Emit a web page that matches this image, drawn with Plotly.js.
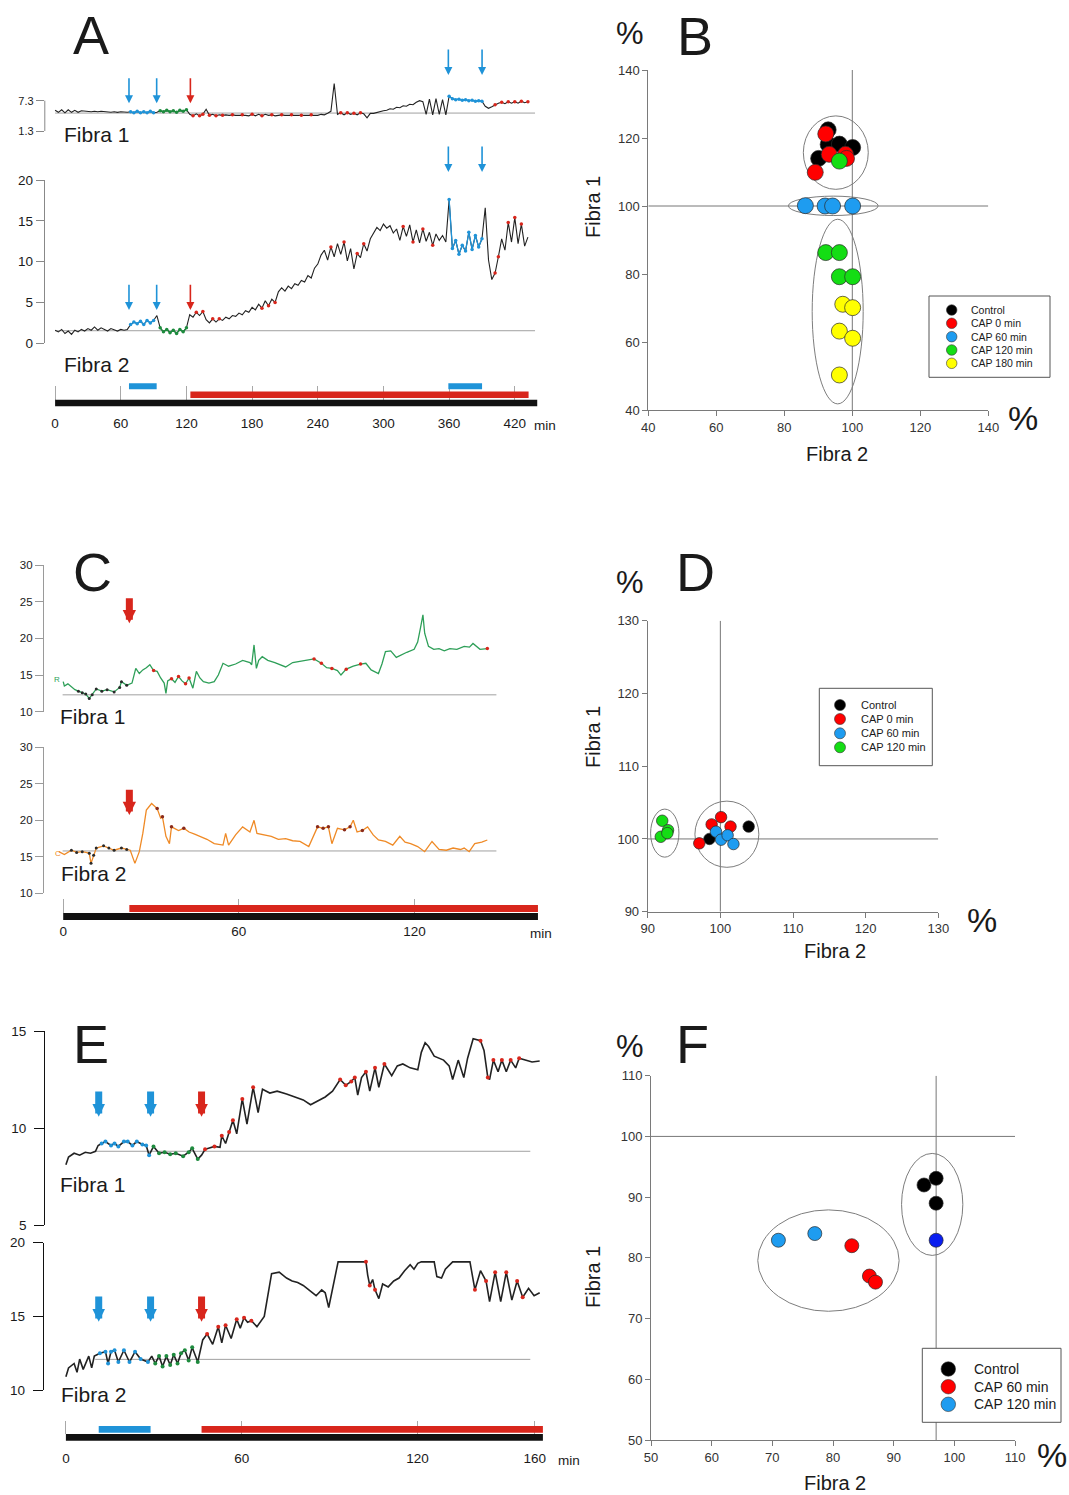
<!DOCTYPE html>
<html>
<head>
<meta charset="utf-8">
<script src="https://cdn.plot.ly/plotly-3.0.1.min.js"></script>
<style>
  html, body { margin: 0; padding: 0; background: #ffffff; }
  #chart { width: 1069px; height: 1495px; }
</style>
</head>
<body>
<div id="chart"></div>
<script>
// ---------------- Panel A: paired-fibre recording, one sample every 3 min ----------------
const A_dt = 3;
const A_fibra1 = [
  5.4,5.0,5.5,4.9,5.5,5.0,5.4,5.0,5.3,5.2,5.2,5.1,5.2,5.1,5.2,5.1,5.1,5.0,5.1,5.0,5.1,5.0,5.0,
  5.1,4.9,5.2,4.9,5.1,4.9,5.2,4.9,5.0,
  5.3,5.1,5.4,5.1,5.3,5.0,5.4,5.2,5.5,
  4.6,4.3,4.7,4.3,4.6,5.6,4.4,4.6,4.3,4.5,4.4,
  4.5,4.4,4.5,4.4,4.4,4.5,4.4,4.3,4.6,4.3,4.6,4.3,4.6,4.4,4.5,4.3,
  4.4,4.5,4.4,4.4,4.5,4.4,4.5,4.4,4.5,4.4,4.5,4.5,4.4,4.6,4.5,
  4.8,5.2,10.7,4.6,4.9,4.5,4.9,4.6,4.8,4.5,4.9,4.7,3.9,4.8,
  4.8,5.0,5.1,5.3,5.4,5.7,5.6,6.0,5.9,6.3,6.2,6.6,6.5,7.0,
  7.3,7.1,4.6,7.6,4.5,7.7,4.6,7.5,
  4.5,8.2,7.7,7.5,7.6,7.4,7.5,7.3,7.4,7.2,7.3,7.2,6.2,5.8,6.1,6.5,6.8,7.0,6.7,7.1,6.8,7.1,6.8,7.2,6.9,7.1
];
const A_fibra2 = [
  1.6,1.4,1.7,1.2,1.5,1.1,1.6,1.4,1.7,1.5,1.8,1.6,2.0,1.6,1.9,1.7,1.5,1.8,1.6,1.5,1.7,1.6,1.7,
  2.3,2.6,2.4,2.7,2.3,2.8,2.5,2.8,3.4,
  1.9,1.4,1.7,1.3,1.6,1.2,1.7,1.4,1.9,
  3.5,3.2,3.8,3.4,3.9,2.9,2.5,3.0,2.6,3.0,2.8,
  3.2,3.0,3.4,3.3,3.7,3.5,4.0,3.8,4.4,4.1,4.8,4.3,5.2,4.6,5.4,5.0,
  6.3,6.8,6.4,7.0,6.7,7.3,7.1,7.7,7.5,8.3,8.0,9.2,9.7,10.8,11.4,
  10.2,11.8,10.6,12.2,10.9,12.4,10.1,11.6,9.1,11.0,10.5,12.2,11.3,12.8,
  13.6,14.2,13.8,14.6,14.1,14.4,13.5,14.0,12.6,14.3,13.1,14.5,12.4,13.9,
  12.3,14.0,12.5,13.6,12.0,13.4,12.6,13.2,
  12.4,17.6,11.6,12.6,10.9,12.0,11.3,13.6,11.5,13.2,11.8,12.8,16.6,10.2,7.8,8.6,10.6,12.8,11.4,14.8,12.4,15.4,12.2,14.6,11.9,13.0
];
const A_baseline1 = 4.85;
const A_baseline2 = 1.54;
const A_baselineEnd = 438.5;
const A_control = [0, 440.5];
const A_cap = [123.6, 432.6];
const A_blue = [[67.5, 92.8], [359.3, 390.1]];
const A_ticks = [0, 60, 120, 180, 240, 300, 360, 420];
const A_f1_redMarks = [126,132,135,141,147,153,162,171,180,189,198,207,216,225,234,261,267,273,279,402,408,414,420,426,432];
const A_f2_redMarks = [129,135,144,150,189,195,201,252,264,276,282,318,327,336,345,402,405,414,420,426];

// ---------------- Panel B: Fibra 2 vs Fibra 1 (%) ----------------
const B_control_x = [92.9, 92.9, 96.2, 100.1, 90.1];
const B_control_y = [122.4, 118.1, 118.2, 117.2, 114.0];
const B_cap0_x = [92.2, 93.2, 98.0, 98.3, 89.1];
const B_cap0_y = [121.2, 115.2, 115.2, 114.0, 109.9];
const B_cap60_x = [86.2, 92.0, 94.2, 100.1];
const B_cap60_y = [100.1, 100.0, 100.0, 100.0];
const B_cap120_x = [96.2, 92.2, 96.2, 96.2, 100.1];
const B_cap120_y = [113.2, 86.3, 86.3, 79.2, 79.2];
const B_cap180_x = [97.2, 100.1, 96.2, 100.1, 96.2];
const B_cap180_y = [71.1, 70.1, 63.2, 61.1, 50.3];
const B_groups = [[85.6, 104.7, 104.9, 126.5], [81.2, 107.6, 97.2, 102.9], [88.2, 103.2, 41.8, 96.1]];
const B_ref = {x: 100, y: 100};

// ---------------- Panel C ----------------
const C_t1 = [0.0,0.4,1.6,2.8,4.0,5.2,6.5,7.7,8.9,9.9,11.3,13.2,15.0,17.4,19.3,19.9,21.7,23.5,24.8,26.0,27.2,28.4,29.6,30.9,32.1,33.3,34.5,35.1,35.7,37.0,38.2,39.4,40.6,41.8,43.0,44.3,45.5,46.7,47.9,49.8,51.6,53.0,54.6,56.5,58.9,61.3,63.8,64.4,65.2,66.0,66.8,68.0,69.9,72.3,74.8,76.0,78.4,80.9,83.3,85.7,88.2,90.0,91.8,93.7,94.9,96.7,99.1,101.6,103.4,105.2,107.7,108.9,110.1,111.9,113.8,115.6,117.4,119.9,121.1,122.1,122.9,123.5,124.8,126.6,128.4,130.2,132.1,134.5,137.0,138.8,140.0,142.4,144.9];
const C_fibra1 = [14.1,13.5,13.8,13.4,13.0,12.8,12.6,12.4,11.8,12.3,13.1,12.8,13.0,12.7,13.3,14.1,13.6,13.9,15.9,15.2,15.7,16.0,16.4,15.6,15.5,14.6,13.9,12.5,14.2,14.5,14.0,14.8,14.2,13.8,14.6,13.2,15.5,14.6,14.1,13.9,14.1,15.0,16.6,16.2,16.5,17.0,16.7,16.4,19.1,15.9,17.0,17.5,17.0,16.7,16.3,16.1,16.7,16.9,17.0,17.2,16.6,16.0,15.9,15.6,15.0,15.8,16.2,16.5,16.6,15.7,15.2,16.5,18.2,18.3,17.4,17.8,18.1,18.5,19.5,21.5,23.2,20.7,18.9,18.5,18.6,18.3,18.6,18.5,18.9,18.8,19.3,18.5,18.6];
const C_t2 = [-1.5,0.4,2.8,4.6,6.5,8.9,9.5,10.4,11.3,13.8,15.6,17.4,19.9,21.7,22.9,24.5,26.0,27.2,28.4,30.2,32.1,33.3,33.9,35.1,36.3,37.0,39.4,41.2,43.0,44.9,46.7,49.1,51.6,54.6,55.5,56.5,58.9,61.3,63.8,65.2,66.2,68.6,71.1,73.5,76.0,78.4,80.9,83.9,86.9,88.8,90.6,91.8,93.7,96.1,98.0,99.1,100.4,102.2,104.0,105.9,107.7,110.1,112.6,113.8,115.0,116.8,118.7,121.1,123.5,126.0,128.4,130.9,133.2,135.7,137.0,138.7,140.6,143.0,144.9];
const C_fibra2 = [15.7,15.3,15.9,15.6,15.7,15.5,14.1,15.2,16.2,16.5,16.2,15.9,16.2,16.0,15.9,14.1,15.7,18.2,21.4,22.3,21.6,20.3,20.5,17.8,16.8,19.1,18.6,18.9,18.4,18.1,17.8,17.4,16.8,16.6,18.2,16.6,18.0,19.1,18.4,20.0,18.2,18.0,17.8,17.4,17.5,17.2,17.1,16.4,19.1,18.9,19.1,16.8,18.9,18.7,19.1,20.0,18.4,18.6,19.1,18.0,17.3,17.1,16.6,17.2,17.8,17.0,16.8,16.4,15.7,17.1,16.0,15.9,16.2,16.0,16.2,15.7,16.8,17.0,17.3];
const C_baseline1 = 12.3;
const C_baseline2 = 15.8;
const C_baselineSpan = [-0.2, 148];
const C_control = [0, 162.2];
const C_cap = [22.6, 162.2];
const C_ticks = [0, 60, 120];
const C_f1_redMarks = [30.9, 37.0, 39.4, 41.8, 43.0, 85.7, 88.2, 91.8, 96.7, 101.6, 144.9];
const C_f2_redMarks = [32.1, 33.9, 37.0, 41.2, 86.9, 88.8, 90.6, 96.1, 98.0, 102.2];

// ---------------- Panel D ----------------
const D_control_x = [98.5, 103.9];
const D_control_y = [100.0, 101.7];
const D_cap0_x = [97.1, 98.8, 100.1, 101.4];
const D_cap0_y = [99.4, 102.0, 103.0, 101.7];
const D_cap60_x = [99.4, 100.1, 101.0, 101.8];
const D_cap60_y = [101.0, 99.9, 100.5, 99.3];
const D_cap120_x = [92.0, 92.8, 91.8, 92.7];
const D_cap120_y = [102.5, 101.2, 100.3, 100.8];
const D_groups = [[90.4, 94.3, 97.5, 104.1], [96.5, 105.3, 96.1, 105.2]];
const D_ref = {x: 100, y: 100};

// ---------------- Panel E ----------------
const E_t1 = [0.0,0.9,2.8,4.7,6.6,8.4,10.1,11.0,12.2,13.5,15.4,16.6,17.9,19.8,21.1,22.7,24.2,26.1,27.4,28.4,29.9,31.8,33.7,35.6,37.5,40.0,41.9,43.1,45.0,46.3,47.5,49.4,50.7,52.6,53.2,54.5,55.7,57.0,58.3,59.3,60.2,61.8,63.9,65.6,67.1,69.6,72.1,75.3,78.4,81.0,83.5,86.0,88.5,91.0,93.6,95.5,97.4,98.6,99.6,100.9,102.4,103.7,104.9,105.5,106.8,108.7,111.2,113.1,115.0,117.5,120.1,121.3,122.6,123.8,125.7,128.9,130.8,132.0,133.9,135.8,137.1,139.0,141.5,142.7,144.0,144.6,145.9,147.5,148.8,150.3,151.8,153.5,154.7,157.3,159.1,161.7];
const E_fibra1 = [8.1,8.5,8.7,8.6,8.75,8.7,8.8,9.1,9.2,9.3,9.1,9.2,9.05,9.3,9.3,9.1,9.3,9.15,9.1,8.6,9.05,8.7,8.75,8.65,8.7,8.55,8.75,8.95,8.4,8.6,8.9,9.0,9.05,9.0,9.6,9.2,9.8,10.4,9.7,10.6,11.5,10.2,12.1,10.8,12.0,11.8,11.9,11.75,11.6,11.45,11.2,11.4,11.6,11.9,12.5,12.2,12.4,12.6,11.7,12.6,12.9,11.9,12.7,13.1,12.1,13.3,12.7,13.2,13.3,13.1,13.0,13.9,14.4,14.2,13.7,13.5,13.2,12.5,13.5,12.6,13.6,14.6,14.5,14.0,12.6,12.5,13.5,12.9,13.5,12.9,13.5,13.1,13.6,13.5,13.4,13.45];
const E_t2 = [0.0,0.9,2.8,3.8,4.7,5.9,7.8,8.8,9.7,10.6,11.6,13.5,14.4,15.4,16.6,17.9,19.8,21.7,23.6,25.5,28.0,29.3,30.5,31.8,33.0,34.3,35.6,36.8,38.1,39.3,40.6,41.9,43.1,45.0,46.7,48.2,50.1,52.0,53.2,54.5,56.4,58.3,59.5,60.8,62.0,63.3,65.2,67.7,69.0,70.2,72.8,75.3,77.2,79.1,81.0,83.5,85.4,87.3,88.5,89.7,91.0,92.9,97.3,102.4,103.0,103.7,104.7,105.5,106.8,108.1,110.0,111.9,113.7,115.6,117.5,118.8,120.1,121.3,125.7,126.6,128.2,129.5,132.0,137.9,139.6,141.5,143.4,144.6,146.5,148.4,150.3,152.2,154.0,155.9,157.9,159.8,161.7];
const E_fibra2 = [10.9,11.5,11.8,11.2,12.1,11.4,12.3,11.5,12.3,12.4,12.5,12.6,11.8,12.6,12.7,11.9,12.7,11.9,12.6,12.1,11.9,12.3,11.8,12.3,11.6,12.3,11.7,12.4,11.8,12.5,12.7,12.0,12.9,11.9,13.4,13.8,13.1,14.3,13.2,14.4,13.5,14.8,14.2,14.9,14.6,14.7,14.3,15.0,16.5,17.9,18.0,17.6,17.4,17.3,17.1,16.7,16.4,16.8,16.6,15.6,16.8,18.7,18.7,18.7,17.8,17.1,17.5,16.8,16.2,17.2,17.0,17.4,17.6,18.1,18.5,18.2,18.6,18.7,18.7,17.7,17.6,18.2,18.7,18.7,16.8,18.1,17.4,16.0,18.0,16.0,18.0,16.1,17.4,16.3,16.9,16.4,16.6];
const E_baseline1 = 8.8;
const E_baseline2 = 12.08;
const E_baselineSpan = [10, 158.5];
const E_control = [0, 162.8];
const E_cap = [46.3, 162.8];
const E_blue = [[11.2, 28.9]];
const E_ticks = [0, 60, 120, 160];
const E_f1_redMarks = [47.5, 50.7, 53.2, 55.7, 57.0, 60.2, 63.9, 93.6, 95.5, 97.4, 98.6, 102.4, 105.5, 108.7, 141.5, 144.0, 145.9, 148.8, 151.8, 154.7];
const E_f2_redMarks = [48.2, 52.0, 54.5, 58.3, 60.8, 63.3, 102.4, 103.7, 105.5, 139.6, 143.4, 146.5, 150.3, 154.0, 155.9];

// ---------------- Panel F ----------------
const F_control_x = [95.0, 97.0, 97.0];
const F_control_y = [92.0, 93.1, 89.0];
const F_cap60_x = [83.1, 86.0, 87.0];
const F_cap60_y = [82.0, 77.0, 76.0];
const F_cap120_x = [71.0, 77.0];
const F_cap120_y = [82.9, 84.0];
const F_other_x = [97.0];
const F_other_y = [82.9];
const F_groups = [[67.6, 90.9, 71.2, 87.9], [91.3, 101.4, 80.4, 97.2]];
const F_ref = {x: 97, y: 100};

// ================= drawing =================
const W = 1069, H = 1495;
const X = p => p / W;
const Y = p => 1 - p / H;
const FONT = 'Liberation Sans, Arial, Helvetica, sans-serif';
const INK = '#1a1a1a';
const COL = {blue: '#1f93d8', green: '#1e8b3e', red: '#d8261c', bar: '#111111',
             cGreen: '#2e9f58', cOrange: '#ef8a26', trace: '#222222'};
const PT = {control: '#000000', cap0: '#ff0000', cap60: '#1e9cf0', cap120: '#14dd14', cap180: '#ffff00', deep: '#0a1ef0'};

const traces = [];
const shapes = [];
const annotations = [];

const seq = (n, dt) => Array.from({length: n}, (_, i) => i * dt);
const A_t = seq(A_fibra1.length, A_dt);

function within(t, v, lo, hi) {
  const x = [], y = [];
  t.forEach((ti, i) => { if (ti >= lo && ti <= hi) { x.push(ti); y.push(v[i]); } });
  return {x, y};
}
function nearest(t, v, times) {
  const x = [], y = [];
  times.forEach(m => {
    let b = 0;
    t.forEach((ti, i) => { if (Math.abs(ti - m) < Math.abs(t[b] - m)) b = i; });
    x.push(t[b]); y.push(v[b]);
  });
  return {x, y};
}
function lineTrace(xa, ya, x, y, color, width) {
  traces.push({type: 'scatter', mode: 'lines', xaxis: xa, yaxis: ya, x, y,
    line: {color, width}, hoverinfo: 'skip', showlegend: false});
}
function markTrace(xa, ya, pts, color, size) {
  traces.push({type: 'scatter', mode: 'markers', xaxis: xa, yaxis: ya, x: pts.x, y: pts.y,
    marker: {color, size, line: {width: 0}}, hoverinfo: 'skip', showlegend: false});
}
function segTrace(xa, ya, pts, color) {
  traces.push({type: 'scatter', mode: 'lines+markers', xaxis: xa, yaxis: ya, x: pts.x, y: pts.y,
    line: {color, width: 1.3}, marker: {color, size: 3.5}, hoverinfo: 'skip', showlegend: false});
}
function barTrace(xa, ya, span, row, color, width) {
  traces.push({type: 'scatter', mode: 'lines', xaxis: xa, yaxis: ya, x: [span[0], span[1]], y: [row, row],
    line: {color, width}, hoverinfo: 'skip', showlegend: false});
}
function baseline(xa, ya, x0, x1, y) {
  shapes.push({type: 'line', xref: xa, yref: ya, x0, x1, y0: y, y1: y, layer: 'below',
    line: {color: '#a0a0a0', width: 1}});
}
function arrow(xa, t, tipPy, tailPy, color, w, head) {
  annotations.push({xref: xa, yref: 'paper', x: t, y: Y(tipPy), ax: 0, ay: tailPy - tipPy,
    axref: 'pixel', ayref: 'pixel', text: '', showarrow: true, arrowhead: 2, arrowsize: head,
    arrowwidth: w, arrowcolor: color, standoff: 0});
}
function label(text, x, y, size, opts) {
  annotations.push(Object.assign({text, xref: 'paper', yref: 'paper', x: X(x), y: Y(y),
    xanchor: 'center', yanchor: 'middle', showarrow: false, font: {size, color: INK}}, opts || {}));
}
function scatterSet(xa, ya, x, y, color, size) {
  traces.push({type: 'scatter', mode: 'markers', xaxis: xa, yaxis: ya, x, y,
    marker: {color, size, line: {color: '#2a2a2a', width: 0.7}}, hoverinfo: 'skip', showlegend: false});
}
function groups(xa, ya, list) {
  list.forEach(g => shapes.push({type: 'circle', xref: xa, yref: ya, x0: g[0], x1: g[1], y0: g[2], y1: g[3],
    layer: 'below', line: {color: '#7d7d7d', width: 1}}));
}
function refLines(xa, ya, ref, xr, yr) {
  shapes.push({type: 'line', xref: xa, yref: ya, x0: ref.x, x1: ref.x, y0: yr[0], y1: yr[1], layer: 'below', line: {color: '#777', width: 1}});
  shapes.push({type: 'line', xref: xa, yref: ya, x0: xr[0], x1: xr[1], y0: ref.y, y1: ref.y, layer: 'below', line: {color: '#777', width: 1}});
}
function legendBlock(box, rows, entries, mx, tx, msize, fsize) {
  shapes.push({type: 'rect', xref: 'paper', yref: 'paper', x0: X(box[0]), x1: X(box[2]), y0: Y(box[3]), y1: Y(box[1]),
    line: {color: '#555', width: 1}, fillcolor: '#ffffff', layer: 'above'});
  entries.forEach((e, i) => {
    shapes.push({type: 'circle', xref: 'paper', yref: 'paper', xsizemode: 'pixel', ysizemode: 'pixel',
      xanchor: X(mx), yanchor: Y(rows[i]), x0: -msize / 2, x1: msize / 2, y0: -msize / 2, y1: msize / 2,
      fillcolor: e[1], line: {color: '#333', width: 0.6}, layer: 'above'});
    label(e[0], tx, rows[i], fsize, {xanchor: 'left'});
  });
}

// ---- axis builders ----
function tAxis(d0, d1, p0, ppm, anchor) {
  return {domain: [X(d0), X(d1)], range: [(d0 - p0) / ppm, (d1 - p0) / ppm], anchor, visible: false, fixedrange: true};
}
function timeTickAxis(d0, d1, p0, ppm, anchor, posPy, ticklen, tickvals, standoff) {
  return Object.assign(tAxis(d0, d1, p0, ppm, anchor), {
    visible: true, anchor: 'free', position: Y(posPy), side: 'bottom', ticks: 'inside', ticklen,
    tickwidth: 1, tickcolor: '#a8a8a8', tickvals, ticktext: tickvals.map(String), showline: false,
    showgrid: false, zeroline: false, layer: 'below traces', ticklabelstandoff: standoff,
    tickfont: {size: 13.5, color: INK}});
}
function vAxis(top, bottom, range, anchor, opts) {
  return Object.assign({domain: [Y(bottom), Y(top)], range, anchor, showgrid: false, zeroline: false,
    ticks: 'outside', ticklen: 8, tickwidth: 1, showline: true, linewidth: 1, fixedrange: true}, opts);
}
function rowAxis(top, bottom, range, anchor) {
  return {domain: [Y(bottom), Y(top)], range, anchor, visible: false, fixedrange: true};
}
function sAxis(isX, d0, d1, range, dtick, anchor) {
  return {domain: isX ? [X(d0), X(d1)] : [Y(d1), Y(d0)], range, dtick, tick0: range[0], anchor,
    showline: true, linecolor: '#7a7a7a', linewidth: 1, ticks: 'outside', ticklen: 5, tickcolor: '#7a7a7a',
    showgrid: false, zeroline: false, fixedrange: true, tickfont: {size: 13, color: '#333'}};
}

// ---- Panel A ----
const A_p0 = 55.1, A_ppm = 1.0945;
lineTrace('x', 'y', A_t, A_fibra1, COL.trace, 1.1);
lineTrace('x2', 'y2', A_t, A_fibra2, COL.trace, 1.1);
[['x', 'y', A_fibra1, A_f1_redMarks], ['x2', 'y2', A_fibra2, A_f2_redMarks]].forEach(([xa, ya, v, reds]) => {
  A_blue.forEach(w => segTrace(xa, ya, within(A_t, v, w[0], w[1]), COL.blue));
  segTrace(xa, ya, within(A_t, v, A_blue[0][1] + 1, A_cap[0] - 1), COL.green);
  markTrace(xa, ya, nearest(A_t, v, reds), COL.red, 3.5);
});
baseline('x', 'y', 0, A_baselineEnd, A_baseline1);
baseline('x2', 'y2', 0, A_baselineEnd, A_baseline2);
A_blue.forEach(w => barTrace('x3', 'y3', w, 2, COL.blue, 6));
barTrace('x3', 'y3', A_cap, 1, COL.red, 6.5);
barTrace('x3', 'y3', A_control, 0, COL.bar, 6.5);
shapes.push({type: 'line', xref: 'paper', yref: 'y', x0: X(44.8), x1: X(44.8), y0: 1.3, y1: 7.3, line: {color: '#888', width: 1}});
[A_blue[0][0], A_blue[0][1]].forEach(t => {
  arrow('x', t, 103.3, 76.7, COL.blue, 1.6, 1);
  arrow('x2', t, 310, 283.3, COL.blue, 1.6, 1);
});
arrow('x', A_cap[0], 103.3, 76.7, COL.red, 1.6, 1);
arrow('x2', A_cap[0], 310, 283.3, COL.red, 1.6, 1);
[A_blue[1][0], A_blue[1][1]].forEach(t => {
  arrow('x', t, 75, 48, COL.blue, 1.6, 1);
  arrow('x2', t, 172, 145, COL.blue, 1.6, 1);
});

// ---- Panel B ----
refLines('x10', 'y10', B_ref, [40, 140], [40, 140]);
groups('x10', 'y10', B_groups);
scatterSet('x10', 'y10', B_control_x, B_control_y, PT.control, 16);
scatterSet('x10', 'y10', B_cap0_x, B_cap0_y, PT.cap0, 16);
scatterSet('x10', 'y10', B_cap60_x, B_cap60_y, PT.cap60, 16);
scatterSet('x10', 'y10', B_cap120_x, B_cap120_y, PT.cap120, 16);
scatterSet('x10', 'y10', B_cap180_x, B_cap180_y, PT.cap180, 16);
legendBlock([929, 296, 1050, 377.3], [310, 323.3, 336.7, 350, 363.3],
  [['Control', PT.control], ['CAP 0 min', PT.cap0], ['CAP 60 min', PT.cap60], ['CAP 120 min', PT.cap120], ['CAP 180 min', PT.cap180]],
  951.7, 969, 10.5, 10.5);

// ---- Panel C ----
const C_p0 = 63.2, C_ppm = 2.927;
lineTrace('x4', 'y4', C_t1, C_fibra1, COL.cGreen, 1.3);
lineTrace('x5', 'y5', C_t2, C_fibra2, COL.cOrange, 1.3);
markTrace('x4', 'y4', within(C_t1, C_fibra1, 5, C_cap[0]), '#2a2a2a', 3);
markTrace('x5', 'y5', within(C_t2, C_fibra2, 2, C_cap[0]), '#2a2a2a', 3);
markTrace('x4', 'y4', nearest(C_t1, C_fibra1, C_f1_redMarks), COL.red, 3.5);
markTrace('x5', 'y5', nearest(C_t2, C_fibra2, C_f2_redMarks), '#8a2a1a', 3.5);
baseline('x4', 'y4', C_baselineSpan[0], C_baselineSpan[1], C_baseline1);
baseline('x5', 'y5', C_baselineSpan[0], C_baselineSpan[1], C_baseline2);
barTrace('x6', 'y6', C_cap, 1, COL.red, 7);
barTrace('x6', 'y6', C_control, 0, COL.bar, 7);
arrow('x4', C_cap[0], 623.3, 596.7, COL.red, 7, 0.38);
arrow('x5', C_cap[0], 815, 788.3, COL.red, 7, 0.38);
label('R', 57, 680, 8, {font: {size: 8, color: COL.cGreen}});
label('C', 58, 853, 8, {font: {size: 8, color: COL.cOrange}});

// ---- Panel D ----
refLines('x11', 'y11', D_ref, [90, 130], [90, 130]);
groups('x11', 'y11', D_groups);
scatterSet('x11', 'y11', D_control_x, D_control_y, PT.control, 11.5);
scatterSet('x11', 'y11', D_cap0_x, D_cap0_y, PT.cap0, 11.5);
scatterSet('x11', 'y11', D_cap60_x, D_cap60_y, PT.cap60, 11.5);
scatterSet('x11', 'y11', D_cap120_x, D_cap120_y, PT.cap120, 11.5);
legendBlock([819.3, 688.3, 932.3, 765.7], [705, 719, 733.3, 747.3],
  [['Control', PT.control], ['CAP 0 min', PT.cap0], ['CAP 60 min', PT.cap60], ['CAP 120 min', PT.cap120]],
  840, 858.5, 11, 11);

// ---- Panel E ----
const E_p0 = 65.9, E_ppm = 2.93;
lineTrace('x7', 'y7', E_t1, E_fibra1, COL.trace, 1.6);
lineTrace('x8', 'y8', E_t2, E_fibra2, COL.trace, 1.6);
[['x7', 'y7', E_t1, E_fibra1, E_f1_redMarks], ['x8', 'y8', E_t2, E_fibra2, E_f2_redMarks]].forEach(([xa, ya, t, v, reds]) => {
  markTrace(xa, ya, within(t, v, E_blue[0][0], E_blue[0][1]), COL.blue, 4);
  markTrace(xa, ya, within(t, v, E_blue[0][1] + 1, E_cap[0] - 1), COL.green, 4);
  markTrace(xa, ya, nearest(t, v, reds), COL.red, 4);
});
baseline('x7', 'y7', E_baselineSpan[0], E_baselineSpan[1], E_baseline1);
baseline('x8', 'y8', E_baselineSpan[0], E_baselineSpan[1], E_baseline2);
E_blue.forEach(w => barTrace('x9', 'y9', w, 1, COL.blue, 6.7));
barTrace('x9', 'y9', E_cap, 1, COL.red, 6.7);
barTrace('x9', 'y9', E_control, 0, COL.bar, 6.7);
[E_blue[0][0], E_blue[0][1]].forEach(t => {
  arrow('x7', t, 1116.7, 1090, COL.blue, 7, 0.36);
  arrow('x8', t, 1321.7, 1295, COL.blue, 7, 0.36);
});
arrow('x7', E_cap[0], 1116.7, 1090, COL.red, 7, 0.36);
arrow('x8', E_cap[0], 1321.7, 1295, COL.red, 7, 0.36);

// ---- Panel F ----
refLines('x12', 'y12', F_ref, [50, 110], [50, 110]);
groups('x12', 'y12', F_groups);
scatterSet('x12', 'y12', F_control_x, F_control_y, PT.control, 14);
scatterSet('x12', 'y12', F_cap60_x, F_cap60_y, PT.cap0, 14);
scatterSet('x12', 'y12', F_cap120_x, F_cap120_y, PT.cap60, 14);
scatterSet('x12', 'y12', F_other_x, F_other_y, PT.deep, 14);
legendBlock([922.3, 1348.3, 1061, 1422.3], [1369, 1386.7, 1404.3],
  [['Control', PT.control], ['CAP 60 min', PT.cap0], ['CAP 120 min', PT.cap60]],
  948.3, 972, 14.5, 14);

// ---- text ----
label('A', 91, 35, 54);
label('B', 695, 36, 54);
label('C', 92, 572, 54);
label('D', 695, 572, 54);
label('E', 91, 1044, 54);
label('F', 692, 1044, 54);
[[630, 34], [630, 583], [630, 1046]].forEach(p => label('%', p[0], p[1], 31));
[[1023, 418], [982, 920], [1052, 1455]].forEach(p => label('%', p[0], p[1], 34));
[[593, 207], [593, 737], [593, 1277]].forEach(p => label('Fibra 1', p[0], p[1], 20, {textangle: -90}));
[[837, 454], [835, 951], [835, 1483]].forEach(p => label('Fibra 2', p[0], p[1], 20));
label('Fibra 1', 62, 134, 21, {xanchor: 'left'});
label('Fibra 2', 62, 364, 21, {xanchor: 'left'});
label('Fibra 1', 58, 716, 21, {xanchor: 'left'});
label('Fibra 2', 59, 873, 21, {xanchor: 'left'});
label('Fibra 1', 58, 1184, 21, {xanchor: 'left'});
label('Fibra 2', 59, 1394, 21, {xanchor: 'left'});
label('min', 545, 425, 13.5);
label('min', 541, 933, 13.5);
label('min', 569, 1460, 13.5);

const greyAx = {linecolor: '#888', tickcolor: '#888', tickfont: {size: 13.5, color: INK}};
const lightAx = {linecolor: '#9a9a9a', tickcolor: '#9a9a9a', tickfont: {size: 11.5, color: INK}};
const darkAx = {linecolor: '#111', tickcolor: '#111', ticklen: 10, ticklabelstandoff: 5, tickfont: {size: 13.5, color: INK}};

const layout = {
  width: W, height: H, margin: {l: 0, r: 0, t: 0, b: 0},
  paper_bgcolor: '#ffffff', plot_bgcolor: 'rgba(0,0,0,0)', showlegend: false,
  font: {family: FONT, color: INK, size: 13},
  // A
  xaxis: tAxis(44.8, 545, A_p0, A_ppm, 'y'),
  yaxis: vAxis(40, 145, [7.3 - (145 - 100.7) * 0.198, 7.3 + (100.7 - 40) * 0.198], 'x',
    {showline: false, tickvals: [1.3, 7.3], ticktext: ['1.3', '7.3'], tickcolor: '#888', tickfont: {size: 11, color: INK}}),
  xaxis2: tAxis(44.8, 545, A_p0, A_ppm, 'y2'),
  yaxis2: vAxis(180, 343.3, [0, 20], 'x2', Object.assign({dtick: 5, tick0: 0}, greyAx)),
  xaxis3: timeTickAxis(44.8, 545, A_p0, A_ppm, 'y3', 400, 14, A_ticks, 13),
  yaxis3: rowAxis(378, 410, [-0.838, 2.994], 'x3'),
  // C
  xaxis4: tAxis(43.9, 545, C_p0, C_ppm, 'y4'),
  yaxis4: vAxis(565, 711.7, [10, 30], 'x4', Object.assign({dtick: 5, tick0: 10}, lightAx)),
  xaxis5: tAxis(43.9, 545, C_p0, C_ppm, 'y5'),
  yaxis5: vAxis(747.3, 893.3, [10, 30], 'x5', Object.assign({dtick: 5, tick0: 10}, lightAx)),
  xaxis6: timeTickAxis(43.9, 545, C_p0, C_ppm, 'y6', 913, 14, C_ticks, 8),
  yaxis6: rowAxis(898, 922, [-0.6875, 2.3125], 'x6'),
  // E
  xaxis7: tAxis(45.1, 575, E_p0, E_ppm, 'y7'),
  yaxis7: vAxis(1031, 1225, [5, 15], 'x7', Object.assign({dtick: 5, tick0: 5}, darkAx)),
  xaxis8: tAxis(43.7, 575, E_p0, E_ppm, 'y8'),
  yaxis8: vAxis(1242.7, 1390, [10, 20], 'x8', Object.assign({dtick: 5, tick0: 10}, darkAx)),
  xaxis9: timeTickAxis(43.7, 575, E_p0, E_ppm, 'y9', 1434, 13.3, E_ticks, 14),
  yaxis9: rowAxis(1418, 1446, [-1.0875, 2.4125], 'x9'),
  // B, D, F
  xaxis10: sAxis(true, 648.3, 988.3, [40, 140], 20, 'y10'),
  yaxis10: sAxis(false, 70, 410, [40, 140], 20, 'x10'),
  xaxis11: sAxis(true, 647.7, 938.3, [90, 130], 10, 'y11'),
  yaxis11: sAxis(false, 620.7, 911.7, [90, 130], 10, 'x11'),
  xaxis12: sAxis(true, 651, 1015, [50, 110], 10, 'y12'),
  yaxis12: sAxis(false, 1075.7, 1440, [50, 110], 10, 'x12'),
  shapes, annotations
};

Plotly.newPlot('chart', traces, layout, {staticPlot: true, displayModeBar: false});
</script>
</body>
</html>
